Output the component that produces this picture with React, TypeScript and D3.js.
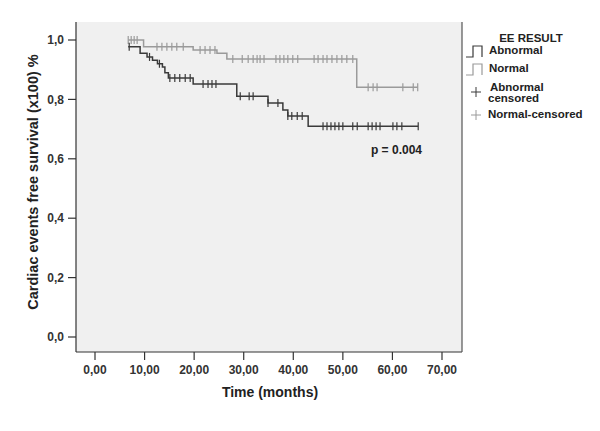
import React from "react";
import * as d3 from "d3";

// Kaplan-Meier steps: [time, survival]
const abnormalSteps: [number, number][] = [
  [6.7, 0.977], [9.1, 0.955], [10.5, 0.943], [11.6, 0.932], [12.6, 0.92],
  [13.6, 0.909], [14.1, 0.89], [14.8, 0.872], [19.8, 0.852], [28.6, 0.811],
  [34.9, 0.788], [37.9, 0.764], [38.9, 0.744], [43.0, 0.71],
];
const abnormalEnd = 65.2;
const abnormalCensored: number[] = [
  6.9, 11.0, 13.0, 15.1, 16.1, 17.1, 18.2, 19.2, 21.8, 22.8, 23.6, 24.4,
  29.3, 31.1, 31.9, 34.9, 36.9, 38.9, 39.7, 40.8, 41.8, 46.0, 46.8, 47.6,
  48.4, 49.2, 50.0, 52.0, 52.9, 55.1, 55.9, 56.7, 57.5, 60.1, 60.9, 61.9, 65.2,
];

const normalSteps: [number, number][] = [
  [6.7, 1.0], [9.8, 0.977], [19.8, 0.966], [24.6, 0.955], [26.6, 0.936], [52.8, 0.841],
];
const normalEnd = 65.1;
const normalCensored: number[] = [
  6.7, 7.3, 7.9, 8.5, 12.5, 13.5, 14.5, 15.5, 16.5, 17.8, 21.2, 22.2, 23.2, 24.2,
  27.8, 29.7, 30.9, 31.9, 32.7, 33.3, 34.1, 36.5, 37.3, 38.1, 38.9, 39.9, 40.9,
  44.2, 45.0, 46.0, 46.8, 47.8, 48.8, 49.8, 50.8, 52.0, 55.1, 56.1, 56.9, 62.1, 64.2, 65.1,
];

const xTicks = [0, 10, 20, 30, 40, 50, 60, 70];
const yTicks = [0, 0.2, 0.4, 0.6, 0.8, 1.0];
const legendTitle = "EE RESULT";
const legendLabels = ["Abnormal", "Normal", "Abnormal censored", "Normal-censored"];
const pText = "p = 0.004";
const xLabel = "Time (months)";
const yLabel = "Cardiac events free survival (x100) %";

const DARK = "#3a3a3a";
const LIGHT = "#9a9a9a";
const FONT = "'Liberation Sans', Arial, sans-serif";

function survAt(steps: [number, number][], t: number) {
  let s = steps[0][1];
  for (const [tt, ss] of steps) if (tt <= t) s = ss;
  return s;
}

export default function App() {
  const W = 600, H = 431;
  const frame = { left: 76, right: 462, top: 22, bottom: 352 };
  const x = d3.scaleLinear().domain([0, 70]).range([95, 442]);
  const y = d3.scaleLinear().domain([0, 1]).range([337, 40]);

  const line = d3
    .line<[number, number]>()
    .x((d) => x(d[0]))
    .y((d) => y(d[1]))
    .curve(d3.curveStepAfter);

  const abnPts: [number, number][] = [...abnormalSteps, [abnormalEnd, abnormalSteps[abnormalSteps.length - 1][1]]];
  const norPts: [number, number][] = [...normalSteps, [normalEnd, normalSteps[normalSteps.length - 1][1]]];

  const fmtX = (v: number) => v.toFixed(2).replace(".", ",");
  const fmtY = (v: number) => v.toFixed(1).replace(".", ",");

  const censorMarks = (steps: [number, number][], times: number[], color: string, key: string) =>
    times.map((t, i) => {
      const cx = x(t);
      const cy = y(survAt(steps, t));
      return (
        <line key={key + i} x1={cx} x2={cx} y1={cy - 4} y2={cy + 4} stroke={color} strokeWidth={1.2} />
      );
    });

  return (
    <svg width={W} height={H} style={{ position: "absolute", left: 0, top: 0, background: "#fff" }}>
      <rect x={frame.left} y={frame.top} width={frame.right - frame.left} height={frame.bottom - frame.top} fill="#f0f0f0" />
      {/* axes */}
      <line x1={frame.left} x2={frame.left} y1={frame.top} y2={frame.bottom} stroke="#333" strokeWidth={1.2} />
      <line x1={frame.left} x2={frame.right} y1={frame.bottom} y2={frame.bottom} stroke="#333" strokeWidth={1.2} />
      <line x1={frame.right} x2={frame.right} y1={frame.top} y2={frame.bottom} stroke="#555" strokeWidth={1.2} />
      {yTicks.map((v) => (
        <g key={"y" + v}>
          <line x1={frame.left - 8} x2={frame.left} y1={y(v)} y2={y(v)} stroke="#333" strokeWidth={1.2} />
          <text x={frame.left - 12} y={y(v)} dy="0.35em" textAnchor="end" fontFamily={FONT} fontWeight="bold" fontSize={12} fill="#333">
            {fmtY(v)}
          </text>
        </g>
      ))}
      {xTicks.map((v) => (
        <g key={"x" + v}>
          <line x1={x(v)} x2={x(v)} y1={frame.bottom} y2={frame.bottom + 8} stroke="#333" strokeWidth={1.2} />
          <text x={x(v)} y={frame.bottom + 22} textAnchor="middle" fontFamily={FONT} fontWeight="bold" fontSize={12} fill="#333">
            {fmtX(v)}
          </text>
        </g>
      ))}
      <text x={270} y={397} textAnchor="middle" fontFamily={FONT} fontWeight="bold" fontSize={14} fill="#222">
        {xLabel}
      </text>
      <text transform={`translate(38,${(frame.top + frame.bottom) / 2 - 5}) rotate(-90)`} textAnchor="middle" fontFamily={FONT} fontWeight="bold" fontSize={14.5} fill="#222">
        {yLabel}
      </text>

      {/* curves */}
      <path d={line(norPts) || ""} fill="none" stroke={LIGHT} strokeWidth={1.5} />
      {censorMarks(normalSteps, normalCensored, LIGHT, "n")}
      <path d={line(abnPts) || ""} fill="none" stroke={DARK} strokeWidth={1.5} />
      {censorMarks(abnormalSteps, abnormalCensored, DARK, "a")}

      <text x={422} y={154} textAnchor="end" fontFamily={FONT} fontWeight="bold" fontSize={12} fill="#222">
        {pText}
      </text>

      {/* legend */}
      <text x={531} y={42} textAnchor="middle" fontFamily={FONT} fontWeight="bold" fontSize={11.5} fill="#222">
        {legendTitle}
      </text>
      <path d="M466,57 H473 V46 H482 V57" fill="none" stroke={DARK} strokeWidth={1.2} />
      <text x={489} y={54} fontFamily={FONT} fontWeight="bold" fontSize={11.5} fill="#222">{legendLabels[0]}</text>
      <path d="M466,75 H473 V64 H482 V75" fill="none" stroke={LIGHT} strokeWidth={1.2} />
      <text x={489} y={72} fontFamily={FONT} fontWeight="bold" fontSize={11.5} fill="#222">{legendLabels[1]}</text>
      <g stroke={DARK} strokeWidth={1}>
        <line x1={471} x2={481} y1={92} y2={92} />
        <line x1={476} x2={476} y1={87} y2={97} />
      </g>
      <text x={490} y={91} fontFamily={FONT} fontWeight="bold" fontSize={11.5} fill="#222">{legendLabels[2].split(" ")[0]}</text>
      <text x={488} y={102} fontFamily={FONT} fontWeight="bold" fontSize={11.5} fill="#222">{legendLabels[2].split(" ")[1]}</text>
      <g stroke={LIGHT} strokeWidth={1}>
        <line x1={471} x2={481} y1={115} y2={115} />
        <line x1={476} x2={476} y1={110} y2={120} />
      </g>
      <text x={488} y={118} fontFamily={FONT} fontWeight="bold" fontSize={11.5} fill="#222">{legendLabels[3]}</text>
    </svg>
  );
}
